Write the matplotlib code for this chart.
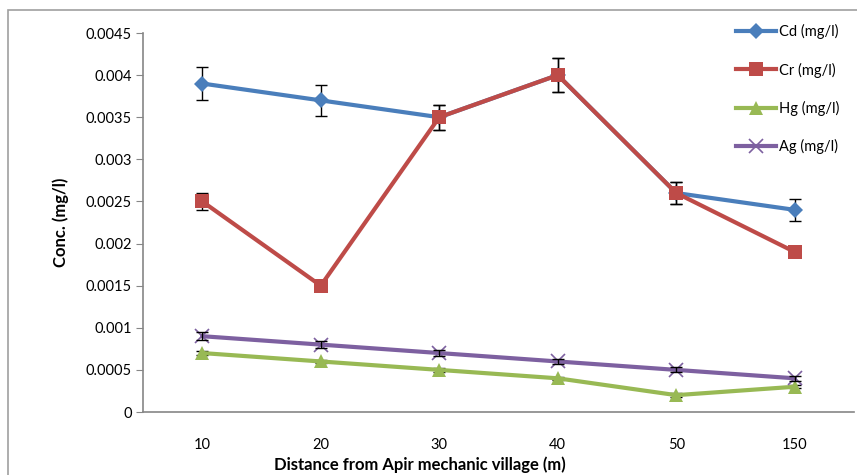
import matplotlib.pyplot as plt
from matplotlib.patches import Rectangle
import numpy as np

plt.rcParams['font.family'] = ['Lato', 'DejaVu Sans']

distances = ['10', '20', '30', '40', '50', '150']
cd = [0.0039, 0.0037, 0.0035, 0.0040, 0.0026, 0.0024]
cd_err = [0.0002, 0.00018, 0.00015, 0.0002, 0.00013, 0.00013]
cr = [0.0025, 0.0015, 0.0035, 0.0040, 0.0026, 0.0019]
cr_err = [0.0001, 0.00004, 0.00015, 0.0002, 0.00013, 0.00004]
hg = [0.0007, 0.0006, 0.0005, 0.0004, 0.0002, 0.0003]
hg_err = [0.00002, 0.00002, 0.00002, 0.00002, 0.00002, 0.00002]
ag = [0.0009, 0.0008, 0.0007, 0.0006, 0.0005, 0.0004]
ag_err = [0.00005, 0.00004, 0.00004, 0.00003, 0.00003, 0.00003]
yticks = [0, 0.0005, 0.001, 0.0015, 0.002, 0.0025, 0.003, 0.0035, 0.004, 0.0045]
ytick_labels = ['0', '0.0005', '0.001', '0.0015', '0.002', '0.0025', '0.003',
                '0.0035', '0.004', '0.0045']

fig = plt.figure(figsize=(8.57, 4.75), dpi=100)
ax = fig.add_axes([143 / 857, 1 - 412 / 475, (854 - 143) / 857, (412 - 33) / 475])

# chart frame
fig.patches.append(Rectangle((8 / 857, -0.05), 1.0, 1 - 10 / 475 + 0.05,
                             transform=fig.transFigure, fill=False,
                             edgecolor='#a0a0a0', linewidth=1.2))

x = np.arange(len(distances))
series = [
    ('Cd (mg/l)', cd, cd_err, '#4a7ebb', 'D', 8),
    ('Cr (mg/l)', cr, cr_err, '#be4b48', 's', 10),
    ('Hg (mg/l)', hg, hg_err, '#98b954', '^', 10),
    ('Ag (mg/l)', ag, ag_err, '#7d60a0', 'x', 10),
]
handles = []
for i, (label, vals, err, color, marker, ms) in enumerate(series):
    # the open x marker lets its error bar show through
    bar_z = 4 + 2 * i if marker == 'x' else 2 + 2 * i
    ax.errorbar(x, vals, yerr=err, fmt='none', ecolor='black',
                elinewidth=1, capsize=4, capthick=1, zorder=bar_z)
    line, = ax.plot(x, vals, color=color, lw=3, marker=marker, ms=ms,
                    mew=1.2 if marker == 'x' else 0, mec=color,
                    label=label, zorder=3 + 2 * i)
    handles.append(line)

ax.set_xlim(-0.5, len(distances) - 0.5)
ax.set_ylim(0, 0.0045)
ax.set_yticks(yticks)
ax.set_yticklabels(ytick_labels)
ax.set_xticks(x)
ax.set_xticklabels(distances)
ax.tick_params(axis='y', length=5, color='#868686', labelsize=10.5, pad=3)
ax.tick_params(axis='x', length=0, labelsize=10.5, pad=19)

for side in ['top', 'right']:
    ax.spines[side].set_visible(False)
for side in ['left', 'bottom']:
    ax.spines[side].set_color('#868686')
    ax.spines[side].set_linewidth(1.2)

ax.set_ylabel('Conc. (mg/l)', fontsize=12, fontweight='bold', labelpad=12)
fig.text(420 / 857, 1 - 465 / 475, 'Distance from Apir mechanic village (m)',
         fontsize=12, fontweight='bold', ha='center', va='center')

ax.legend(handles=handles, loc='upper left', bbox_to_anchor=(0.815, 1.058),
          frameon=False, fontsize=10.5, labelspacing=1.6, handlelength=2.8,
          handletextpad=0.2)

fig.savefig('out.png', dpi=100)
